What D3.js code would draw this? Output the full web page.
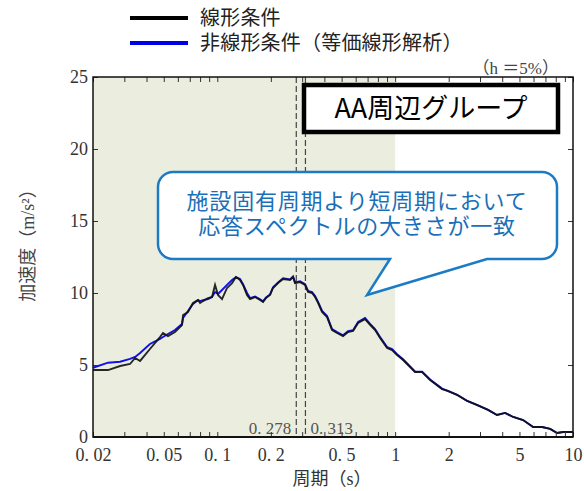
<!DOCTYPE html>
<html><head><meta charset="utf-8">
<script src="https://cdn.jsdelivr.net/npm/d3@7"></script>
<style>body{margin:0;background:#fff}svg{display:block}</style>
</head><body>
<script>
// ---- data ----
const periods = [0.020,0.0243,0.0284,0.0323,0.0345,0.0368,0.0418,0.0476,0.0495,0.0528,0.0578,0.0633,0.0642,0.0684,0.0730,0.0779,0.0800,0.0831,0.0887,0.0934,0.0971,0.1009,0.1063,0.1134,0.1210,0.1274,0.1342,0.1395,0.1469,0.1528,0.1630,0.1740,0.1808,0.1879,0.1979,0.2057,0.2196,0.2343,0.2565,0.2666,0.2736,0.2918,0.3114,0.3238,0.3410,0.3546,0.3686,0.3882,0.4142,0.4418,0.4714,0.5094,0.5435,0.5800,0.6188,0.6772,0.7228,0.7712,0.8228,0.9008,0.9610,1.025,1.108,1.213,1.294,1.417,1.572,1.836,1.984,2.23,2.54,2.89,3.33,3.74,4.15,4.61,5.24,5.97,6.70,7.44,8.14,8.80,10.0];
const linearAcc = [4.65,4.65,4.93,5.07,5.49,5.28,6.11,6.94,7.22,7.01,7.29,7.78,8.47,8.68,9.31,9.51,9.31,9.44,9.65,9.72,10.56,9.86,9.58,10.35,10.69,11.11,10.90,10.56,9.86,9.58,9.72,9.51,9.38,9.65,9.86,10.35,10.69,10.97,10.90,11.11,10.69,10.76,10.56,10.07,10.00,9.72,9.31,8.68,8.33,7.43,7.22,7.01,7.29,7.36,7.92,8.19,7.78,7.43,6.88,6.18,6.04,5.69,5.35,4.86,4.51,4.51,3.96,3.33,3.19,2.92,2.50,2.22,1.88,1.53,1.67,1.39,1.18,0.69,0.69,0.56,0.28,0.35,0.35];
const nonlinearAcc = [4.81,5.16,5.23,5.42,5.56,5.83,6.46,6.81,6.94,7.15,7.43,7.85,8.26,8.75,9.24,9.51,9.44,9.51,9.58,9.72,10.07,9.93,10.21,10.56,10.90,11.11,10.97,10.62,10.00,9.65,9.76,9.56,9.42,9.70,9.90,10.40,10.74,11.02,10.95,11.15,10.74,10.82,10.62,10.14,10.07,9.79,9.38,8.75,8.40,7.50,7.28,7.06,7.35,7.42,7.99,8.26,7.85,7.50,6.95,6.25,6.10,5.75,5.40,4.91,4.55,4.54,3.99,3.36,3.21,2.93,2.51,2.23,1.88,1.53,1.67,1.39,1.18,0.69,0.69,0.56,0.28,0.35,0.35];
const xMajorTicks = [0.02,0.05,0.1,0.2,0.5,1,2,5,10];
const xTickLabels = ["0. 02","0. 05","0. 1","0. 2","0. 5","1","2","5","10"];
const xMinorTicks = [0.02,0.03,0.04,0.05,0.06,0.07,0.08,0.09,0.1,0.2,0.3,0.4,0.5,0.6,0.7,0.8,0.9,1,2,3,4,5,6,7,8,9,10];
const yTicks = [0,5,10,15,20,25];
const markPeriods = [0.278,0.313];
const markLabels = ["0. 278","0. 313"];
const shadeRange = [0.02,1];
const seriesNames = ["線形条件","非線形条件（等価線形解析）"];
const seriesColors = ["#111111","#1010e8"];
const calloutLines = ["施設固有周期より短周期において","応答スペクトルの大きさが一致"];

// ---- drawing ----
const W=584,H=491;
const svg=d3.select("body").append("svg").attr("width",W).attr("height",H);
const x=d3.scaleLog().domain([0.02,10]).range([93,573]);
const y=d3.scaleLinear().domain([0,25]).range([437,77]);
const serif='"Liberation Serif","DejaVu Serif",serif';
const cjk='"Noto Sans CJK JP","Noto Sans",sans-serif';

// shading
svg.append("rect").attr("x",x(shadeRange[0])).attr("y",y(25))
  .attr("width",x(shadeRange[1])-x(shadeRange[0])).attr("height",y(0)-y(25))
  .attr("fill","#ebeedf");

// dashed marks
svg.selectAll(".mk").data(markPeriods).join("line")
  .attr("x1",d=>x(d)).attr("x2",d=>x(d)).attr("y1",y(25)).attr("y2",y(0))
  .attr("stroke","#444").attr("stroke-width",1.2).attr("stroke-dasharray","6,3");
svg.append("text").attr("x",x(markPeriods[0])-5).attr("y",434).attr("text-anchor","end")
  .attr("font-family",serif).attr("font-size",17).attr("fill","#555").text(markLabels[0]);
svg.append("text").attr("x",x(markPeriods[1])+5).attr("y",434).attr("text-anchor","start")
  .attr("font-family",serif).attr("font-size",17).attr("fill","#555").text(markLabels[1]);

// lines
const line=d3.line().x(d=>x(d[0])).y(d=>y(d[1])).curve(d3.curveLinear);
svg.append("path").datum(periods.map((p,i)=>[p,nonlinearAcc[i]]))
  .attr("d",line).attr("fill","none").attr("stroke",seriesColors[1]).attr("stroke-width",1.9);
svg.append("path").datum(periods.map((p,i)=>[p,linearAcc[i]]))
  .attr("d",line).attr("fill","none").attr("stroke",seriesColors[0]).attr("stroke-width",1.9).attr("stroke-opacity",0.9);

// axes ticks (inward)
const gB=svg.append("g").attr("transform",`translate(0,${y(0)})`)
  .call(d3.axisBottom(x).tickValues(xMinorTicks).tickSize(-5).tickFormat(""));
const gT=svg.append("g").attr("transform",`translate(0,${y(25)})`)
  .call(d3.axisTop(x).tickValues(xMinorTicks).tickSize(-5).tickFormat(""));
const gL=svg.append("g").attr("transform",`translate(${x(0.02)},0)`)
  .call(d3.axisLeft(y).tickValues(yTicks).tickSize(-5).tickFormat(""));
const gR=svg.append("g").attr("transform",`translate(${x(10)},0)`)
  .call(d3.axisRight(y).tickValues(yTicks).tickSize(-5).tickFormat(""));
[gB,gT,gL,gR].forEach(g=>{g.select(".domain").remove();g.selectAll("line").attr("stroke","#333").attr("stroke-width",1);});

// tick labels
const gXL=svg.append("g").attr("transform",`translate(0,${y(0)})`)
  .call(d3.axisBottom(x).tickValues(xMajorTicks).tickSize(0).tickPadding(11).tickFormat((d,i)=>xTickLabels[i]));
gXL.select(".domain").remove();
gXL.selectAll("text").attr("font-family",serif).attr("font-size",18).attr("fill","#333").attr("dy","0.71em");
const gYL=svg.append("g").attr("transform",`translate(${x(0.02)},0)`)
  .call(d3.axisLeft(y).tickValues(yTicks).tickSize(0).tickPadding(5).tickFormat(d3.format("d")));
gYL.select(".domain").remove();
gYL.selectAll("text").attr("font-family",serif).attr("font-size",18).attr("fill","#333").attr("dy","0.3em");

// frame
svg.append("rect").attr("x",x(0.02)).attr("y",y(25)).attr("width",x(10)-x(0.02)).attr("height",y(0)-y(25))
  .attr("fill","none").attr("stroke","#111").attr("stroke-width",1.5);
svg.append("line").attr("x1",x(0.02)).attr("x2",x(10)).attr("y1",y(0)).attr("y2",y(0)).attr("stroke","#111").attr("stroke-width",2.2);

// axis titles
const xt=svg.append("text").attr("x",332).attr("y",485).attr("text-anchor","middle").attr("fill","#333")
  .attr("font-family",cjk).attr("font-size",18);
xt.append("tspan").text("周期（");
xt.append("tspan").attr("font-family",serif).text("s");
xt.append("tspan").text("）");
const yt=svg.append("text").attr("transform","translate(34,241) rotate(-90)").attr("text-anchor","middle").attr("fill","#444")
  .attr("font-family",cjk).attr("font-size",18);
yt.append("tspan").text("加速度（");
yt.append("tspan").attr("font-family",serif).text("m/s²");
yt.append("tspan").text("）");

// h=5%
const ht=svg.append("text").attr("x",559).attr("y",74).attr("text-anchor","end")
  .attr("font-size",17).attr("fill","#444").attr("font-family",cjk);
ht.append("tspan").text("（");
ht.append("tspan").attr("font-family",serif).text("h ");
ht.append("tspan").text("＝");
ht.append("tspan").attr("font-family",serif).text("5%");
ht.append("tspan").text("）");

// legend
const legY=[18,43];
seriesNames.forEach((n,i)=>{
  svg.append("line").attr("x1",130).attr("x2",188).attr("y1",legY[i]).attr("y2",legY[i])
    .attr("stroke",i===0?"#000":"#0000e6").attr("stroke-width",4);
});
const lt=svg.append("text").attr("font-family",cjk).attr("font-size",20).attr("letter-spacing",0.2).attr("fill","#222");
seriesNames.forEach((n,i)=>{
  lt.append("tspan").attr("x",200).attr("y",legY[i]).attr("dy","0.36em").text(n);
});

// group box
svg.append("rect").attr("x",304).attr("y",85).attr("width",254).attr("height",47)
  .attr("fill","#fff").attr("stroke","#000").attr("stroke-width",4.5);
svg.append("text").attr("x",431).attr("y",108.5).attr("dy","0.36em").attr("text-anchor","middle")
  .attr("font-family",cjk).attr("font-size",27).attr("fill","#000").text("AA周辺グループ");

// callout
const L=158,R=557,T=172,B=259,r=15;
const p=d3.path();
p.moveTo(L+r,T);p.lineTo(R-r,T);p.arcTo(R,T,R,T+r,r);p.lineTo(R,B-r);p.arcTo(R,B,R-r,B,r);
p.lineTo(487,B);p.lineTo(367,295);p.lineTo(390,B);
p.lineTo(L+r,B);p.arcTo(L,B,L,B-r,r);p.lineTo(L,T+r);p.arcTo(L,T,L+r,T,r);p.closePath();
svg.append("path").attr("d",p.toString()).attr("fill","#fff").attr("stroke","#1b7bc4").attr("stroke-width",2.5).attr("stroke-linejoin","miter");
const ct=svg.append("text").attr("text-anchor","middle").attr("font-family",cjk).attr("font-size",22)
  .attr("letter-spacing",0.8).attr("fill","#1a6fb8");
calloutLines.forEach((s,i)=>{
  ct.append("tspan").attr("x",357).attr("y",[201,226][i]).attr("dy","0.36em").text(s);
});
</script>
</body></html>
